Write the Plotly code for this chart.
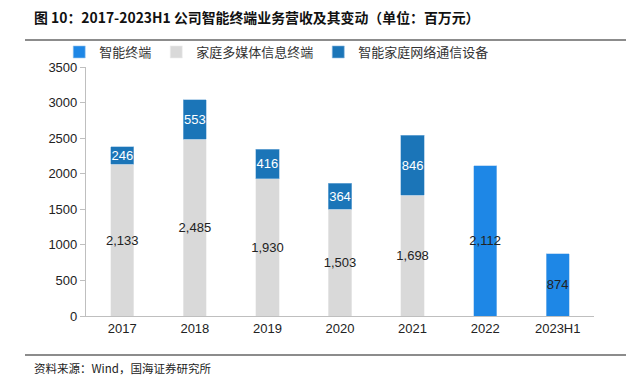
import plotly.graph_objects as go

categories = ["2017", "2018", "2019", "2020", "2021", "2022", "2023H1"]
smart_terminal = [None, None, None, None, None, 2112, 874]
home_media = [2133, 2485, 1930, 1503, 1698, None, None]
home_network = [246, 553, 416, 364, 846, None, None]
y_ticks = [0, 500, 1000, 1500, 2000, 2500, 3000, 3500]

FONT = "Liberation Sans, Arial, Noto Sans CJK SC, sans-serif"
CJK = "Noto Sans CJK SC, sans-serif"

common = dict(textposition="inside", insidetextanchor="middle", textangle=0,
              texttemplate="%{y:,}", constraintext="none")

fig = go.Figure()
fig.add_trace(go.Bar(
    x=categories, y=smart_terminal, name="智能终端",
    marker=dict(color="#1E87E6", line=dict(color="#9cc7ee", width=0.6)),
    textfont=dict(color="#222222", size=13, family=FONT), **common,
))
fig.add_trace(go.Bar(
    x=categories, y=home_media, name="家庭多媒体信息终端",
    marker=dict(color="#D9D9D9", line=dict(color="#ececec", width=0.6)),
    textfont=dict(color="#222222", size=13, family=FONT), **common,
))
fig.add_trace(go.Bar(
    x=categories, y=home_network, name="智能家庭网络通信设备",
    marker=dict(color="#1B75B8", line=dict(color="#8dbbe0", width=0.6)),
    textfont=dict(color="white", size=13, family=FONT), **common,
))

fig.update_layout(
    barmode="stack",
    bargap=0.68,
    width=626, height=381,
    margin=dict(l=86, r=32, t=67, b=65, autoexpand=False),
    paper_bgcolor="white", plot_bgcolor="white",
    font=dict(family=FONT, size=13, color="#222222"),
    uniformtext=dict(mode="show", minsize=13),
    legend=dict(
        orientation="h", xref="container", yref="container",
        x=0.0946, y=1 - 52/381, xanchor="left", yanchor="middle",
        traceorder="normal",
        font=dict(family=CJK, size=13, color="#333333"),
        bgcolor="rgba(0,0,0,0)",
    ),
    xaxis=dict(
        showline=True, linecolor="#BFBFBF", linewidth=1.2,
        ticks="", showgrid=False,
        tickfont=dict(size=13, color="#222222"),
    ),
    yaxis=dict(
        range=[0, 3500], tickvals=y_ticks,
        showline=True, linecolor="#BFBFBF", linewidth=1.2,
        ticks="outside", ticklen=5, tickcolor="#BFBFBF",
        showgrid=False, zeroline=False,
        tickfont=dict(size=13, color="#222222"),
    ),
    annotations=[
        dict(text="<b>图 10：2017-2023H1 公司智能终端业务营收及其变动（单位：百万元）</b>",
             xref="paper", yref="paper", x=-54/508, y=1 + 50/249,
             xanchor="left", yanchor="middle", showarrow=False,
             font=dict(family=CJK, size=13.9, color="#111111")),
        dict(text="资料来源：Wind，国海证券研究所",
             xref="paper", yref="paper", x=-54/508, y=-52/249,
             xanchor="left", yanchor="middle", showarrow=False,
             font=dict(family=CJK, size=11.5, color="#222222")),
    ],
    shapes=[
        dict(type="line", xref="paper", yref="paper", x0=-61/508, x1=540/508,
             y0=1 + 27/249, y1=1 + 27/249, line=dict(color="#8c8c8c", width=2)),
        dict(type="line", xref="paper", yref="paper", x0=-61/508, x1=540/508,
             y0=-39/249, y1=-39/249, line=dict(color="#8c8c8c", width=2)),
    ],
    showlegend=True,
)

fig.write_html("out.html", config={"displayModeBar": False},
               post_script="document.body.style.margin='0';document.body.style.padding='0';")
